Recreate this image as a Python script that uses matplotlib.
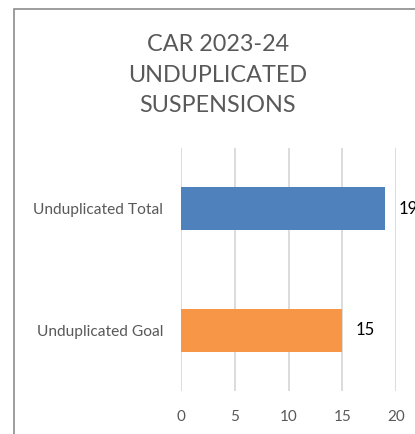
import matplotlib
matplotlib.use("Agg")
import matplotlib.pyplot as plt
from matplotlib.patches import Rectangle

categories = ["Unduplicated Goal", "Unduplicated Total"]
values = [15, 19]
bar_colors = ["#f79646", "#4f81bd"]
x_ticks = [0, 5, 10, 15, 20]
title = "CAR 2023-24\nUNDUPLICATED\nSUSPENSIONS"

plt.rcParams["font.family"] = ["Lato", "DejaVu Sans"]

W, H = 415, 434
fig = plt.figure(figsize=(W / 100, H / 100), dpi=100)
fig.patch.set_facecolor("white")

# chart frame (cropped on right and bottom in the original)
fig.add_artist(Rectangle((13.5 / W, -0.1), 1.2, (1 - 8.5 / H) + 0.1,
                         transform=fig.transFigure, fill=False,
                         edgecolor="#8c8c8c", linewidth=1.2))

ax = fig.add_axes([181 / W, 1 - 391 / H, (396 - 181) / W, (391 - 148) / H])
ypos = list(range(len(categories)))
bars = ax.barh(ypos, values, height=0.355, color=bar_colors, zorder=3)

ax.set_xlim(0, 20)
ax.set_ylim(-0.5, len(categories) - 0.5)
ax.set_xticks(x_ticks)
ax.set_xticklabels([str(t) for t in x_ticks])
ax.set_yticks(ypos)
ax.set_yticklabels(categories)
ax.tick_params(axis="both", length=0, colors="#595959")
ax.tick_params(axis="x", pad=14, labelsize=11)
ax.tick_params(axis="y", pad=13, labelsize=11.2)
ax.grid(axis="x", color="#d9d9d9", linewidth=1.3, zorder=0)
for s in ax.spines.values():
    s.set_visible(False)

for b, v in zip(bars, values):
    ax.text(v + 1.2, b.get_y() + b.get_height() / 2, str(v), va="center",
            ha="left", fontsize=12, color="#000000", clip_on=False)

fig.text(218 / W, 1 - 75 / H, title, ha="center", va="center",
         fontsize=16.8, color="#595959", linespacing=1.55)

fig.savefig("out.png", dpi=100)
